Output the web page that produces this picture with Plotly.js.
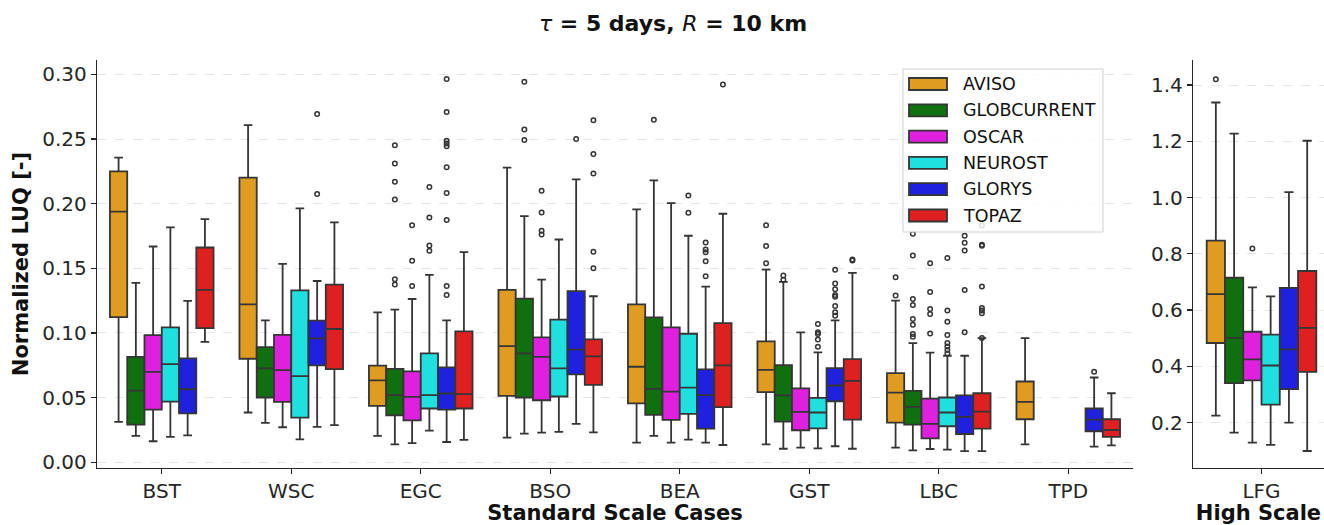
<!DOCTYPE html>
<html>
<head>
<meta charset="utf-8">
<script src="https://cdn.plot.ly/plotly-3.0.1.min.js"></script>
<style>
  html, body { margin: 0; padding: 0; background: #fff; }
  #chart { width: 1324px; height: 525px; }
</style>
</head>
<body>
<div id="chart"></div>
<script>
// Standard-scale cases (left panel) and the high-scale case (right panel)
const categories = ['BST', 'WSC', 'EGC', 'BSO', 'BEA', 'GST', 'LBC', 'TPD'];
const highCategories = ['LFG'];
const models = ['AVISO', 'GLOBCURRENT', 'OSCAR', 'NEUROST', 'GLORYS', 'TOPAZ'];
const colors = ['#df9c20', '#107010', '#df20df', '#20dfdf', '#2020df', '#df2020'];

// Box statistics, one row per model, one column per standard-scale case (null = no data)
const lowerWhisker = [
  [0.0312, 0.0385, 0.0204, 0.0191, 0.0152, 0.0139, 0.0113, 0.0139],
  [0.0204, 0.0305, 0.0139, 0.0222, 0.0204, 0.0105, 0.0093, null],
  [0.0163, 0.0271, 0.0149, 0.0230, 0.0152, 0.0113, 0.0103, null],
  [0.0196, 0.0178, 0.0245, 0.0235, 0.0175, 0.0108, 0.0098, null],
  [0.0209, 0.0274, 0.0157, 0.0297, 0.0152, 0.0124, 0.0087, 0.0121],
  [0.0932, 0.0287, 0.0173, 0.0232, 0.0134, 0.0105, 0.0087, 0.0131]
];
const quartile1 = [
  [0.1123, 0.0801, 0.0436, 0.0514, 0.0455, 0.0542, 0.0307, 0.0333],
  [0.0291, 0.0501, 0.0364, 0.0501, 0.0367, 0.0315, 0.0291, null],
  [0.0408, 0.0467, 0.0325, 0.0480, 0.0328, 0.0248, 0.0185, null],
  [0.0470, 0.0346, 0.0416, 0.0509, 0.0374, 0.0263, 0.0279, null],
  [0.0379, 0.0749, 0.0408, 0.0680, 0.0260, 0.0472, 0.0219, 0.0240],
  [0.1038, 0.0720, 0.0416, 0.0599, 0.0426, 0.0330, 0.0260, 0.0196]
];
const medians = [
  [0.1938, 0.1222, 0.0633, 0.0899, 0.0739, 0.0715, 0.0539, 0.0467],
  [0.0555, 0.0726, 0.0519, 0.0842, 0.0568, 0.0517, 0.0429, null],
  [0.0700, 0.0713, 0.0506, 0.0816, 0.0547, 0.0390, 0.0297, null],
  [0.0759, 0.0666, 0.0519, 0.0726, 0.0578, 0.0385, 0.0385, null],
  [0.0565, 0.0958, 0.0532, 0.0871, 0.0519, 0.0594, 0.0351, 0.0330],
  [0.1333, 0.1031, 0.0527, 0.0819, 0.0749, 0.0630, 0.0392, 0.0250]
];
const quartile3 = [
  [0.2250, 0.2201, 0.0747, 0.1333, 0.1222, 0.0935, 0.0689, 0.0625],
  [0.0816, 0.0891, 0.0723, 0.1266, 0.1121, 0.0752, 0.0552, null],
  [0.0984, 0.0986, 0.0703, 0.0966, 0.1044, 0.0571, 0.0493, null],
  [0.1044, 0.1330, 0.0842, 0.1103, 0.0994, 0.0498, 0.0501, null],
  [0.0803, 0.1095, 0.0734, 0.1323, 0.0718, 0.0729, 0.0517, 0.0416],
  [0.1661, 0.1374, 0.1013, 0.0950, 0.1077, 0.0798, 0.0534, 0.0333]
];
const upperWhisker = [
  [0.2356, 0.2607, 0.1160, 0.2279, 0.1956, 0.1490, 0.1250, 0.0961],
  [0.1387, 0.1098, 0.1181, 0.1904, 0.2180, 0.1395, 0.0922, null],
  [0.1669, 0.1535, 0.1263, 0.1413, 0.2005, 0.1005, 0.0848, null],
  [0.1816, 0.1963, 0.1449, 0.1723, 0.1752, 0.0850, 0.0824, null],
  [0.1248, 0.1402, 0.1098, 0.2188, 0.1359, 0.1098, 0.0824, 0.0656],
  [0.1880, 0.1855, 0.1625, 0.1284, 0.1922, 0.1465, 0.0961, 0.0534]
];

// Fliers per model: [case, value]
const outliers = [
  [['GST', 0.1834], ['GST', 0.1672], ['GST', 0.1540], ['LBC', 0.1431], ['LBC', 0.1289]],
  [['EGC', 0.2452], ['EGC', 0.2310], ['EGC', 0.2170], ['EGC', 0.2033], ['EGC', 0.1416], ['EGC', 0.1375],
   ['BSO', 0.2943], ['BSO', 0.2573], ['BSO', 0.2493], ['BEA', 0.2648], ['GST', 0.1444], ['GST', 0.1411],
   ['LBC', 0.1767], ['LBC', 0.1600], ['LBC', 0.1263], ['LBC', 0.1217], ['LBC', 0.1108], ['LBC', 0.1064],
   ['LBC', 0.0992], ['LBC', 0.0971]],
  [['EGC', 0.1834], ['EGC', 0.1558], ['EGC', 0.1364], ['BSO', 0.2100], ['BSO', 0.1932], ['BSO', 0.1790],
   ['BSO', 0.1762], ['LBC', 0.1540], ['LBC', 0.1317], ['LBC', 0.1186], ['LBC', 0.1147], ['LBC', 0.0997]],
  [['EGC', 0.2129], ['EGC', 0.1894], ['EGC', 0.1677], ['EGC', 0.1636], ['BEA', 0.2064], ['BEA', 0.1930],
   ['GST', 0.1069], ['GST', 0.1005], ['GST', 0.0992], ['GST', 0.0950], ['GST', 0.0894],
   ['LBC', 0.1579], ['LBC', 0.1173], ['LBC', 0.1087], ['LBC', 0.0984], ['LBC', 0.0922], ['LBC', 0.0896],
   ['LBC', 0.0868], ['LBC', 0.0842]],
  [['WSC', 0.2694], ['WSC', 0.2074], ['EGC', 0.2964], ['EGC', 0.2708], ['EGC', 0.2486], ['EGC', 0.2465],
   ['EGC', 0.2444], ['EGC', 0.2281], ['EGC', 0.2082], ['EGC', 0.1873], ['EGC', 0.1364], ['EGC', 0.1294],
   ['BSO', 0.2501], ['BEA', 0.1700], ['BEA', 0.1646], ['BEA', 0.1625], ['BEA', 0.1555], ['BEA', 0.1439],
   ['GST', 0.1490], ['GST', 0.1382], ['GST', 0.1338], ['GST', 0.1294], ['GST', 0.1281], ['GST', 0.1209],
   ['GST', 0.1160], ['GST', 0.1134], ['LBC', 0.1752], ['LBC', 0.1697], ['LBC', 0.1638], ['LBC', 0.1333],
   ['LBC', 0.1005], ['TPD', 0.0700]],
  [['BSO', 0.2646], ['BSO', 0.2384], ['BSO', 0.2234], ['BSO', 0.1628], ['BSO', 0.1501], ['BEA', 0.2922],
   ['GST', 0.1568], ['GST', 0.1560], ['LBC', 0.1832], ['LBC', 0.1682], ['LBC', 0.1674], ['LBC', 0.1359],
   ['LBC', 0.1194], ['LBC', 0.1173], ['LBC', 0.1152], ['LBC', 0.0961]]
];

// High-scale case (LFG), one value per model
const lfgLower  = [0.225, 0.164, 0.129, 0.121, 0.200, 0.099];
const lfgQ1     = [0.483, 0.340, 0.350, 0.264, 0.319, 0.380];
const lfgMedian = [0.657, 0.501, 0.425, 0.403, 0.460, 0.537];
const lfgQ3     = [0.847, 0.715, 0.523, 0.513, 0.679, 0.739];
const lfgUpper  = [1.338, 1.227, 0.681, 0.649, 1.019, 1.202];
const lfgOutliers = [[1.421], [], [0.819], [], [], []];

// ---- drawing ----
const FONT = 'DejaVu Sans, Verdana, sans-serif';
const INK = '#262626';
const EDGE = '#353535';
const groupWidth = 0.8;
const boxWidth = groupWidth / models.length;
const slot = (catIdx, m) => catIdx + (m - (models.length - 1) / 2) * boxWidth;
const boxLine = { color: EDGE, width: 1.8 };
const flierMarker = { symbol: 'circle-open', size: 4.5, color: EDGE, line: { width: 1.5, color: EDGE } };

const traces = [];
models.forEach((name, m) => {
  const xs = [], lo = [], a = [], md = [], b = [], hi = [];
  categories.forEach((c, ci) => {
    if (medians[m][ci] === null) return;
    xs.push(slot(ci, m));
    lo.push(lowerWhisker[m][ci]); a.push(quartile1[m][ci]); md.push(medians[m][ci]);
    b.push(quartile3[m][ci]); hi.push(upperWhisker[m][ci]);
  });
  traces.push({
    type: 'box', name, x: xs, lowerfence: lo, q1: a, median: md, q3: b, upperfence: hi,
    width: boxWidth, whiskerwidth: 0.5, boxpoints: false,
    fillcolor: colors[m], line: boxLine,
    xaxis: 'x', yaxis: 'y', showlegend: false, hoverinfo: 'skip'
  });
  const pts = outliers[m];
  traces.push({
    type: 'scatter', mode: 'markers', name: name + ' fliers',
    x: pts.map(p => slot(categories.indexOf(p[0]), m)), y: pts.map(p => p[1]),
    marker: flierMarker, xaxis: 'x', yaxis: 'y', showlegend: false, hoverinfo: 'skip'
  });
  // High-scale panel
  traces.push({
    type: 'box', name, x: [slot(0, m)], lowerfence: [lfgLower[m]], q1: [lfgQ1[m]],
    median: [lfgMedian[m]], q3: [lfgQ3[m]], upperfence: [lfgUpper[m]],
    width: boxWidth, whiskerwidth: 0.5, boxpoints: false,
    fillcolor: colors[m], line: boxLine,
    xaxis: 'x2', yaxis: 'y2', showlegend: false, hoverinfo: 'skip'
  });
  traces.push({
    type: 'scatter', mode: 'markers', name: name + ' fliers',
    x: lfgOutliers[m].map(() => slot(0, m)), y: lfgOutliers[m],
    marker: flierMarker, xaxis: 'x2', yaxis: 'y2', showlegend: false, hoverinfo: 'skip'
  });
});

// Plot area geometry (px) used for the legend box
const W = 1324, H = 525;
const M = { l: 97, r: 0, t: 60, b: 57 };
const PW = W - M.l - M.r, PH = H - M.t - M.b;
const px = v => (v - M.l) / PW;
const py = v => (H - M.b - v) / PH;

const shapes = [{
  type: 'rect', xref: 'paper', yref: 'paper',
  x0: px(903), x1: px(1103), y0: py(232), y1: py(69),
  fillcolor: 'rgba(255,255,255,0.85)', line: { color: '#d0d0d0', width: 1 }, layer: 'above'
}];
const annotations = [];
models.forEach((name, m) => {
  const cy = 84 + m * 26.3;
  shapes.push({
    type: 'rect', xref: 'paper', yref: 'paper',
    x0: px(909), x1: px(947), y0: py(cy + 6), y1: py(cy - 6),
    fillcolor: colors[m], line: { color: EDGE, width: 1.8 }, layer: 'above'
  });
  annotations.push({
    xref: 'paper', yref: 'paper', x: px(961), y: py(cy), xanchor: 'left', yanchor: 'middle',
    text: name, showarrow: false, font: { family: FONT, size: 17.5, color: '#111' }
  });
});

const axisCommon = {
  showline: true, linecolor: INK, linewidth: 1.2, ticks: 'outside', ticklen: 5,
  tickwidth: 1.2, tickcolor: INK, zeroline: false, mirror: false,
  tickfont: { family: FONT, size: 20, color: INK }
};

const layout = {
  width: W, height: H,
  margin: M,
  paper_bgcolor: '#fff', plot_bgcolor: '#fff',
  font: { family: FONT, color: INK },
  showlegend: false,
  title: {
    text: '<b><span style="font-style:italic;font-weight:normal">τ</span> = 5 days, ' +
          '<span style="font-style:italic;font-weight:normal">R</span> = 10 km</b>',
    x: 673 / W, xref: 'container', xanchor: 'center',
    y: 1 - 23 / H, yref: 'container', yanchor: 'middle',
    font: { family: FONT, size: 22, color: '#111' }
  },
  xaxis: Object.assign({}, axisCommon, {
    domain: [0, px(1133)], range: [-0.5, categories.length - 0.5],
    tickmode: 'array', tickvals: categories.map((c, i) => i), ticktext: categories,
    showgrid: false,
    title: { text: '<b>Standard Scale Cases</b>', standoff: 7, font: { family: FONT, size: 21, color: '#111' } }
  }),
  yaxis: Object.assign({}, axisCommon, {
    domain: [0, 1], range: [-0.0044, 0.3111], tick0: 0, dtick: 0.05, tickformat: '.2f',
    showgrid: true, gridcolor: 'rgba(0,0,0,0.1)', griddash: 'dash', gridwidth: 1,
    title: { text: '<b>Normalized LUQ [-]</b>', standoff: 8, font: { family: FONT, size: 21, color: '#111' } }
  }),
  xaxis2: Object.assign({}, axisCommon, {
    domain: [px(1193), 1], range: [-0.5, 0.456], anchor: 'y2',
    tickmode: 'array', tickvals: [0], ticktext: highCategories,
    showgrid: false,
    title: { text: '<b>High Scale</b>', standoff: 7, font: { family: FONT, size: 21, color: '#111' } }
  }),
  yaxis2: Object.assign({}, axisCommon, {
    domain: [0, 1], anchor: 'x2', range: [0.0386, 1.489], tick0: 0, dtick: 0.2, tickformat: '.1f',
    showgrid: true, gridcolor: 'rgba(0,0,0,0.1)', griddash: 'dash', gridwidth: 1
  }),
  shapes, annotations
};

Plotly.newPlot('chart', traces, layout, { staticPlot: true, displayModeBar: false });
</script>
</body>
</html>
